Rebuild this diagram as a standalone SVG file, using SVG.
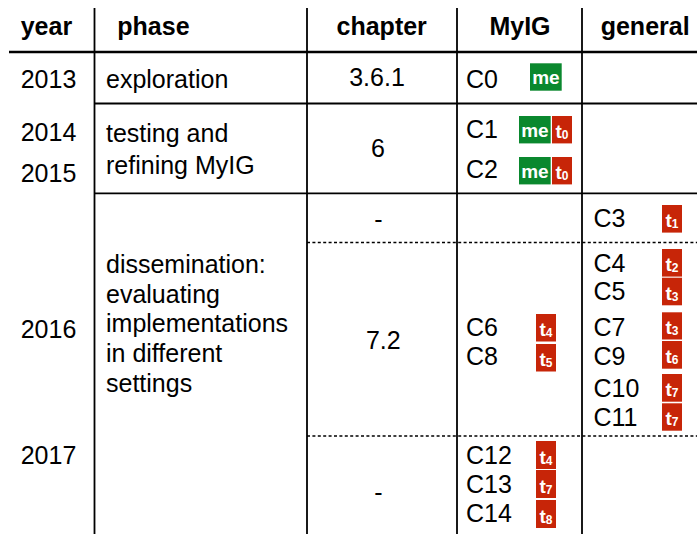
<svg xmlns="http://www.w3.org/2000/svg" width="697" height="534" viewBox="0 0 697 534">
  <defs>
    <style>
      text { font-family: "Liberation Sans", Arial, Helvetica, sans-serif; fill: #000; }
      .h { font-size: 25px; font-weight: bold; }
      .t { font-size: 25px; }
      .mid { text-anchor: middle; }
      .rule { stroke: #000; stroke-width: 1.8; fill: none; }
      .thick { stroke: #000; stroke-width: 2.4; fill: none; }
      .dash { stroke: #000; stroke-width: 1.5; stroke-dasharray: 3 2.4; fill: none; }
      .g { fill: #0a882e; }
      .r { fill: #c72508; }
      .bt { fill: #fff; font-weight: bold; font-size: 19px; text-anchor: middle; }
      .sub { font-size: 12px; }
    </style>
  </defs>
  <rect width="697" height="534" fill="#fff"/>

  <!-- grid lines -->
  <g id="grid">
    <line class="rule" x1="94.5" y1="8" x2="94.5" y2="534"/>
    <line class="rule" x1="307" y1="8" x2="307" y2="534"/>
    <line class="rule" x1="457" y1="8" x2="457" y2="534"/>
    <line class="rule" x1="582" y1="8" x2="582" y2="534"/>
    <line class="thick" x1="9" y1="52" x2="697" y2="52"/>
    <line class="rule" x1="94.5" y1="103.5" x2="697" y2="103.5"/>
    <line class="rule" x1="94.5" y1="193.3" x2="697" y2="193.3"/>
    <line class="dash" x1="307" y1="242.5" x2="697" y2="242.5"/>
    <line class="dash" x1="307" y1="436" x2="697" y2="436"/>
  </g>

  <!-- column headers -->
  <g id="header">
    <text class="h" x="20.7" y="35">year</text>
    <text class="h" x="117.3" y="35">phase</text>
    <text class="h mid" x="381.7" y="35">chapter</text>
    <text class="h mid" x="520" y="35">MyIG</text>
    <text class="h" x="600.7" y="35">general</text>
  </g>

  <!-- years -->
  <g id="years">
    <text class="t" x="20.7" y="88.3">2013</text>
    <text class="t" x="20.7" y="141">2014</text>
    <text class="t" x="20.7" y="181.7">2015</text>
    <text class="t" x="20.7" y="338.3">2016</text>
    <text class="t" x="20.7" y="464">2017</text>
  </g>

  <!-- phases -->
  <g id="phase-exploration">
    <text class="t" x="106" y="88.3">exploration</text>
  </g>
  <g id="phase-testing">
    <text class="t" x="106" y="141.5">testing and</text>
    <text class="t" x="106" y="173.5">refining MyIG</text>
  </g>
  <g id="phase-dissemination">
    <text class="t" x="106" y="273.3">dissemination:</text>
    <text class="t" x="106" y="302.5">evaluating</text>
    <text class="t" x="106" y="332">implementations</text>
    <text class="t" x="106" y="361.7">in different</text>
    <text class="t" x="106" y="391.5">settings</text>
  </g>

  <!-- chapters -->
  <g id="chapters">
    <text class="t mid" x="377" y="85.7">3.6.1</text>
    <text class="t mid" x="378" y="156.7">6</text>
    <text class="t mid" x="378.3" y="227.6">-</text>
    <text class="t mid" x="383.3" y="349.3">7.2</text>
    <text class="t mid" x="378.3" y="501.2">-</text>
  </g>

  <!-- MyIG cases -->
  <g id="case-C0">
    <text class="t" x="466" y="88.3">C0</text>
    <rect class="g" x="530" y="63.3" width="31.7" height="27.4"/>
    <text class="bt" x="545.9" y="84">me</text>
  </g>
  <g id="case-C1">
    <text class="t" x="466" y="137.7">C1</text>
    <rect class="g" x="519" y="116" width="31.7" height="27.4"/>
    <text class="bt" x="534.9" y="136.7">me</text>
    <rect class="r" x="552" y="116" width="20" height="27.4"/>
    <text class="bt" x="562" y="138">t<tspan class="sub" dy="1">0</tspan></text>
  </g>
  <g id="case-C2">
    <text class="t" x="466" y="178.3">C2</text>
    <rect class="g" x="519" y="157" width="31.7" height="27.4"/>
    <text class="bt" x="534.9" y="177.7">me</text>
    <rect class="r" x="552" y="157" width="20" height="27.4"/>
    <text class="bt" x="562" y="179">t<tspan class="sub" dy="1">0</tspan></text>
  </g>
  <g id="case-C6">
    <text class="t" x="466" y="335.7">C6</text>
    <rect class="r" x="536" y="314" width="20" height="27.5"/>
    <text class="bt" x="546" y="336">t<tspan class="sub" dy="1">4</tspan></text>
  </g>
  <g id="case-C8">
    <text class="t" x="466" y="365">C8</text>
    <rect class="r" x="536" y="344" width="20" height="27.5"/>
    <text class="bt" x="546" y="366">t<tspan class="sub" dy="1">5</tspan></text>
  </g>
  <g id="case-C12">
    <text class="t" x="466" y="464">C12</text>
    <rect class="r" x="536" y="441" width="20" height="28"/>
    <text class="bt" x="546" y="463.5">t<tspan class="sub" dy="1">4</tspan></text>
  </g>
  <g id="case-C13">
    <text class="t" x="466" y="492.7">C13</text>
    <rect class="r" x="536" y="470" width="20" height="28"/>
    <text class="bt" x="546" y="492.5">t<tspan class="sub" dy="1">7</tspan></text>
  </g>
  <g id="case-C14">
    <text class="t" x="466" y="521.7">C14</text>
    <rect class="r" x="536" y="500" width="20" height="28"/>
    <text class="bt" x="546" y="522.5">t<tspan class="sub" dy="1">8</tspan></text>
  </g>

  <!-- general cases -->
  <g id="case-C3">
    <text class="t" x="593.5" y="227.3">C3</text>
    <rect class="r" x="662" y="205" width="20" height="27.6"/>
    <text class="bt" x="672" y="227">t<tspan class="sub" dy="1">1</tspan></text>
  </g>
  <g id="case-C4">
    <text class="t" x="593.5" y="271.7">C4</text>
    <rect class="r" x="662" y="249" width="20" height="27.6"/>
    <text class="bt" x="672" y="271">t<tspan class="sub" dy="1">2</tspan></text>
  </g>
  <g id="case-C5">
    <text class="t" x="593.5" y="300">C5</text>
    <rect class="r" x="662" y="277.7" width="20" height="27.6"/>
    <text class="bt" x="672" y="299.7">t<tspan class="sub" dy="1">3</tspan></text>
  </g>
  <g id="case-C7">
    <text class="t" x="593.5" y="335.7">C7</text>
    <rect class="r" x="662" y="312.3" width="20" height="27.2"/>
    <text class="bt" x="672" y="334.2">t<tspan class="sub" dy="1">3</tspan></text>
  </g>
  <g id="case-C9">
    <text class="t" x="593.5" y="365">C9</text>
    <rect class="r" x="662" y="341" width="20" height="27.7"/>
    <text class="bt" x="672" y="363">t<tspan class="sub" dy="1">6</tspan></text>
  </g>
  <g id="case-C10">
    <text class="t" x="593.5" y="396.7">C10</text>
    <rect class="r" x="662" y="374" width="20" height="27.7"/>
    <text class="bt" x="672" y="396">t<tspan class="sub" dy="1">7</tspan></text>
  </g>
  <g id="case-C11">
    <text class="t" x="593.5" y="425.7">C11</text>
    <rect class="r" x="662" y="403.3" width="20" height="27.4"/>
    <text class="bt" x="672" y="425.3">t<tspan class="sub" dy="1">7</tspan></text>
  </g>
</svg>
